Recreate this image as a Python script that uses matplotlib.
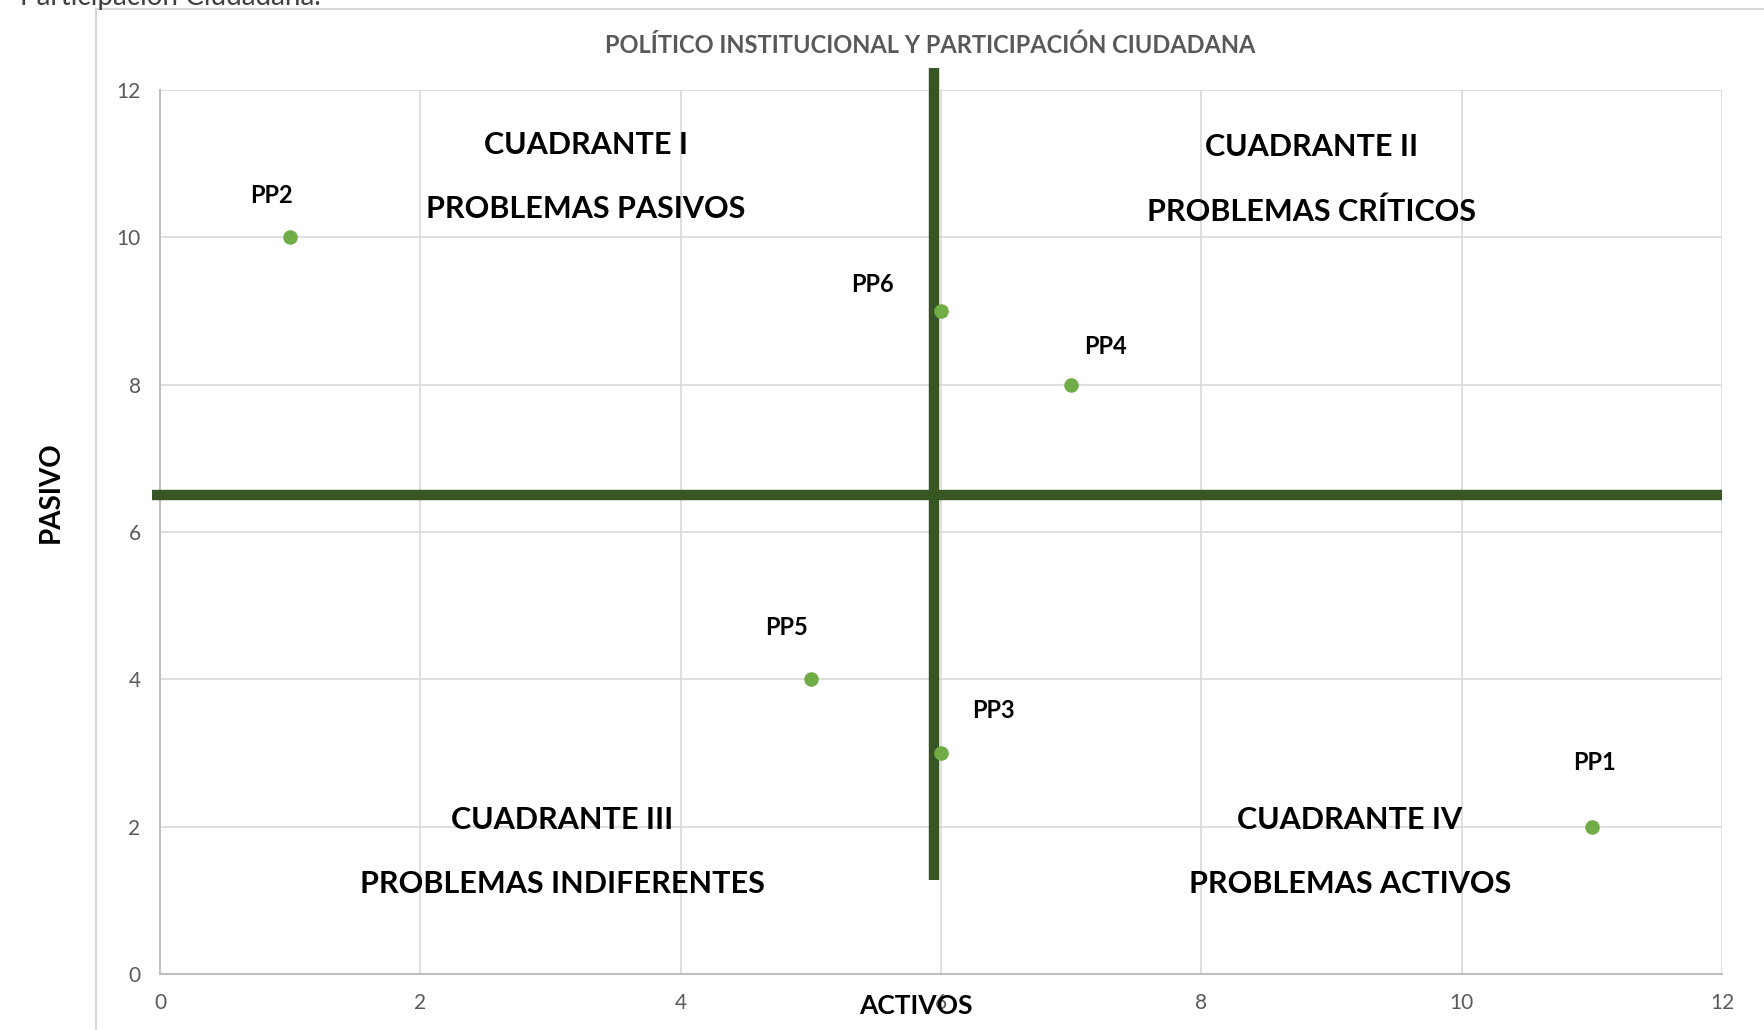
import matplotlib
matplotlib.use("Agg")
import matplotlib.pyplot as plt
from matplotlib.lines import Line2D

# Data: problem points (activos, pasivos)
labels = ["PP1", "PP2", "PP3", "PP4", "PP5", "PP6"]
activos = [11, 1, 6, 7, 5, 6]
pasivos = [2, 10, 3, 8, 4, 9]

quadrant_titles = ["CUADRANTE I", "CUADRANTE II", "CUADRANTE III", "CUADRANTE IV"]
quadrant_names = ["PROBLEMAS PASIVOS", "PROBLEMAS CRÍTICOS",
                  "PROBLEMAS INDIFERENTES", "PROBLEMAS ACTIVOS"]

ticks = [0, 2, 4, 6, 8, 10, 12]

# Label offsets in pixels (x right, y up)
label_offsets = [(3, 64), (-19, 42), (52, 43), (34, 38), (-24, 52), (-69, 27)]
quad_pos = [(3.27, 11.25), (8.85, 11.22), (3.09, 2.09), (9.14, 2.09)]

point_color = "#70AD47"
line_color = "#375623"
grid_color = "#D9D9D9"
text_gray = "#595959"

plt.rcParams["font.family"] = ["Lato", "DejaVu Sans"]

fig = plt.figure(figsize=(17.64, 10.30), dpi=100)
ax = fig.add_axes([160 / 1764, 56 / 1030, 1562 / 1764, 884 / 1030])

ax.set_xlim(0, 12)
ax.set_ylim(0, 12)
ax.set_xticks(ticks)
ax.set_yticks(ticks)
ax.grid(True, color=grid_color, linewidth=1.2)
ax.set_axisbelow(True)
for side in ["top", "right"]:
    ax.spines[side].set_visible(False)
for side in ["left", "bottom"]:
    ax.spines[side].set_color("#BFBFBF")
    ax.spines[side].set_linewidth(1.5)
ax.tick_params(length=0, labelsize=15, labelcolor=text_gray, pad=14)

# Quadrant divider lines
ax.plot([-0.06, 12], [6.5, 6.5], color=line_color, linewidth=7.5, clip_on=False,
        solid_capstyle="butt", zorder=3)
ax.plot([5.95, 5.95], [1.27, 12.3], color=line_color, linewidth=7.5, clip_on=False,
        solid_capstyle="butt", zorder=3)

ax.scatter(activos, pasivos, s=110, color=point_color, zorder=4, clip_on=False,
           linewidths=0)

for lab, x, y, off in zip(labels, activos, pasivos, label_offsets):
    ax.annotate(lab, (x, y), xytext=off, textcoords="offset pixels",
                ha="center", va="center", fontsize=17, fontweight="bold",
                color="black")

for t, n, (qx, qy) in zip(quadrant_titles, quadrant_names, quad_pos):
    ax.text(qx, qy, t, ha="center", va="center", fontsize=22,
            fontweight="bold", color="black")
    ax.text(qx, qy - 0.87, n, ha="center", va="center", fontsize=22,
            fontweight="bold", color="black")

fig.text(930 / 1764, 1 - 45 / 1030, "POLÍTICO INSTITUCIONAL Y PARTICIPACIÓN CIUDADANA",
         ha="center", va="center", fontsize=17, fontweight="bold", color=text_gray)
fig.text(51 / 1764, 1 - 492 / 1030, "PASIVO", rotation=90, ha="center",
         va="center", fontsize=20, fontweight="bold", color="black")
fig.text(916 / 1764, 1 - 1006 / 1030, "ACTIVOS", ha="center", va="center",
         fontsize=19, fontweight="bold", color="black")

# Cropped caption text above the chart frame and the chart frame
fig.text(20 / 1764, 1 - 5 / 1030, "Participación Ciudadana.", ha="left",
         va="baseline", fontsize=20, color="#404040")
fig.add_artist(Line2D([96 / 1764, 96 / 1764], [0, 1 - 9 / 1030],
                      transform=fig.transFigure, color=grid_color, linewidth=1.5))
fig.add_artist(Line2D([96 / 1764, 1], [1 - 9 / 1030, 1 - 9 / 1030],
                      transform=fig.transFigure, color=grid_color, linewidth=1.5))

fig.savefig("out.png", dpi=100)
